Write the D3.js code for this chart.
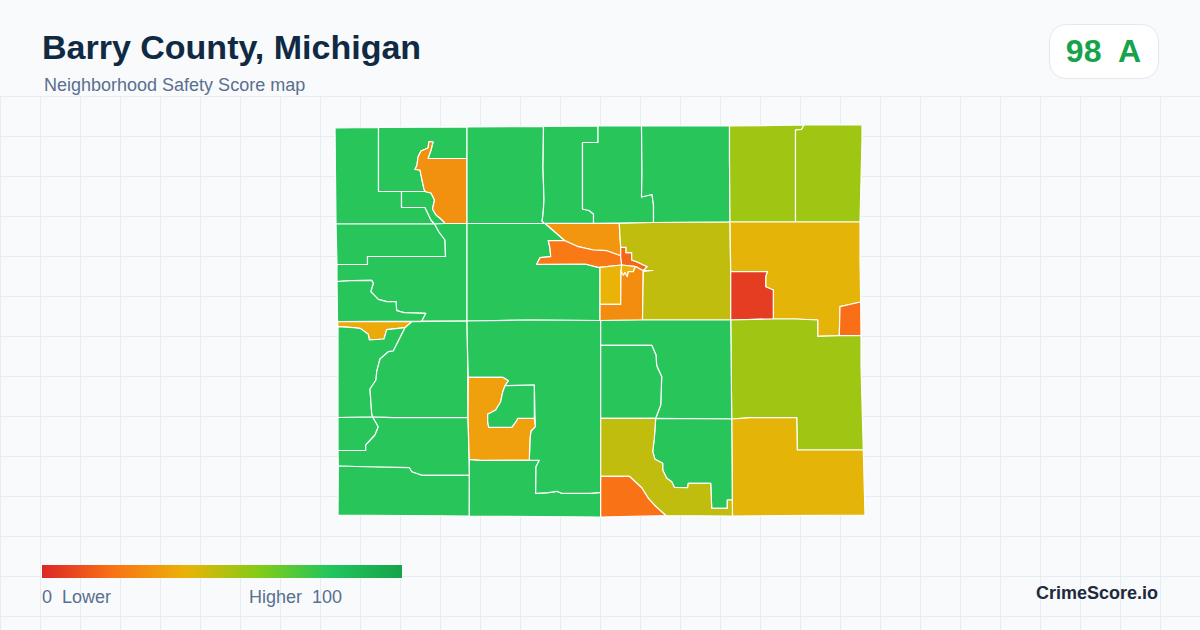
<!DOCTYPE html>
<html>
<head>
<meta charset="utf-8">
<title>Barry County, Michigan</title>
<script src="https://cdn.jsdelivr.net/npm/d3@7"></script>
<style>
  html, body { margin: 0; padding: 0; background: #f8fafc; }
  svg { display: block; font-family: "Liberation Sans", Arial, sans-serif; }
</style>
</head>
<body>
<svg width="1200" height="630"></svg>
<script>
//data: legend stops and texts
const legendStops = [0, 20, 40, 60, 80, 100];
const legendColors = ['#dc2626', '#f97316', '#eab308', '#84cc16', '#22c55e', '#16a34a'];
const legendTexts = ['0  Lower', 'Higher  100'];
const titleText = 'Barry County, Michigan';
const subtitleText = 'Neighborhood Safety Score map';
const badgeText = '98  A';
const brandText = 'CrimeScore.io';

//data: scores, same order as the rings
const tractScores = [
  79, 79, 79, 29, 79, 79, 79, 79, 55, 55,
  79, 79, 79, 79, 31, 22, 17, 40, 40, 28,
  48, 41, 6, 19, 55, 41, 37, 79, 79, 79,
  79, 79, 79, 79, 34, 79, 79, 79, 79, 48, 20
];

//data: tract outlines in map units
const nwWest = [[335,128],[378.5,127.5],[378.5,191.5],[401.5,191.5],[401.5,207.5],[425,207.5],[431,220],[434.5,224],[336,224]];
const nwTop = [[378.5,127.5],[467,127],[467,158.5],[428,158.5],[431,150],[433,142],[429,141.5],[428,148],[421,151],[418,157],[417,165],[415,169.5],[420,170],[422,180],[424,189],[425,191.5],[378.5,191.5]];
const nwSmall = [[401.5,191.5],[425,191.5],[431,193],[434.5,200],[432.5,209],[436,215],[441,219],[444,222],[445,223.5],[434.5,224],[431,220],[425,207.5],[401.5,207.5]];
const lakeTract = [[428,158.5],[467,158.5],[467,223.5],[445,223.5],[444,222],[441,219],[436,215],[432.5,209],[434.5,200],[431,193],[425,191.5],[424,189],[422,180],[420,170],[415,169.5],[417,165],[418,157],[421,151],[428,148],[429,141.5],[433,142],[431,150]];
const northMid = [[467,127],[543.5,126.5],[543,168],[544,200],[543,215],[542,221],[544.5,223.5],[467,223.5]];
const northB = [[543.5,126.5],[598,126],[598,142.5],[582.5,142.5],[582.5,209],[589,210.5],[593.5,214],[593.5,223.5],[544.5,223.5],[542,221],[543,215],[544,200],[543,168]];
const northC = [[598,126],[641.5,126],[642,173],[641.5,197],[652,194.5],[653.5,205],[653.5,222.5],[593.5,223.5],[593.5,214],[589,210.5],[582.5,209],[582.5,142.5],[598,142.5]];
const northD = [[641.5,126],[729.5,126],[729.5,160],[730,222],[653.5,222.5],[653.5,205],[652,194.5],[641.5,197],[642,173]];
const northE = [[729.5,126],[804,125],[801.5,129.5],[795.5,130],[795.5,222],[730,222],[729.5,160]];
const northF = [[804,125],[862,125],[862,140],[860,222],[795.5,222],[795.5,130],[801.5,129.5]];
const westA = [[336,224],[434.5,224],[439,232],[445,240],[445.5,256.5],[367.5,256.5],[367.5,264.5],[337,264.5]];
const westB = [[434.5,224],[445,223.5],[467,223.5],[467,321],[421.7,321],[425.7,313.3],[404,312.7],[396.7,310.7],[396,301.7],[386.7,301.7],[378.3,299.3],[370.7,291.7],[373.3,283.3],[371.7,280.3],[351.7,280.7],[337,281.5],[337,264.5],[367.5,264.5],[367.5,256.5],[445.5,256.5],[445,240],[439,232]];
const westC = [[337,281.5],[351.7,280.7],[371.7,280.3],[373.3,283.3],[370.7,291.7],[378.3,299.3],[386.7,301.7],[396,301.7],[396.7,310.7],[404,312.7],[425.7,313.3],[421.7,321],[337.5,321.5]];
const centerA = [[467,223.5],[545,223.5],[565,240.7],[548.3,240.7],[550,248],[550.7,256.7],[540,257.7],[536.7,264.3],[585,264],[598.3,267.3],[600,267.3],[600,304.3],[600,320.5],[530,320],[467,321]];
const cityNorth = [[545,223.3],[619.3,223.3],[620,236.7],[620.7,247.3],[620.7,255.7],[606.7,250.7],[593.3,250],[578.3,246.7],[565,240.7]];
const cityWest = [[548.3,240.7],[565,240.7],[578.3,246.7],[593.3,250],[606.7,250.7],[620.7,255.7],[621.7,265],[606.7,266.7],[598.3,267.3],[585,264],[536.7,264.3],[540,257.7],[550.7,256.7],[550,248]];
const cityCore = [[620.7,247.3],[626,247.3],[626,252.7],[631.7,252.7],[631.7,260],[636.7,261.7],[647.3,266.7],[643.3,270.7],[636,266.7],[621.7,265],[620.7,256.7]];
const citySouth = [[600,267.3],[606.7,266.7],[621.7,265],[621,271.7],[620.7,304.3],[600,304.3]];
const citySpike = [[621.7,265],[636,266.7],[635,267.3],[633.3,271.7],[628.3,271.7],[627.3,276.7],[625,272.7],[623.3,275.3],[621,271.7]];
const cityEast = [[600,304.3],[620.7,304.3],[621,271.7],[623.3,275.3],[625,272.7],[627.3,276.7],[628.3,271.7],[633.3,271.7],[635,267.3],[636,266.7],[643.3,270.7],[642.5,320],[600,320.5]];
const eastOlive = [[619.3,223.3],[653.5,222.5],[730,222],[730.7,271.7],[730.7,320],[642.5,320],[643.3,271.5],[652.7,270.5],[643.3,270.7],[647.3,266.7],[636.7,261.7],[631.7,260],[631.7,252.7],[626,252.7],[626,247.3],[620.7,247.3],[620,236.7]];
const eastAmber = [[730,222],[860,222],[860,260],[860.7,302],[851.7,304],[840,306.7],[839.3,335.7],[817.7,336.3],[817.7,320],[795.7,319],[773.3,319],[773.3,290],[765.7,286.7],[765.7,276.7],[767.3,271.7],[730.7,271.7]];
const eastRed = [[730.7,271.7],[767.3,271.7],[765.7,276.7],[765.7,286.7],[773.3,290],[773.3,319],[730.7,320]];
const eastOrange = [[840,306.7],[851.7,304],[860.7,302],[861,335.5],[839.3,335.7]];
const eastLime = [[730.7,320],[773.3,319],[795.7,319],[817.7,320],[817.7,336.3],[839.3,335.7],[861,335.5],[861,365],[863.3,450],[797.3,450],[796.7,417.7],[751,417.7],[731.7,419],[731,345]];
const southEast = [[731.7,419],[751,417.7],[796.7,417.7],[797.3,450],[863.3,450],[865,515],[783,515.7],[732.5,516]];
const westStrip = [[337.5,321.5],[411.7,321.7],[405,327.7],[386.7,329.7],[384,339],[369.3,340],[368.3,334.3],[360,328.3],[353.3,327.7],[338,326.7]];
const swA = [[338,326.7],[353.3,327.7],[360,328.3],[368.3,334.3],[369.3,340],[384,339],[386.7,329.7],[405,327.7],[393.3,351],[388.3,351.7],[380,359],[376.7,371.7],[376,380],[370,389],[371.7,413.3],[372.7,417],[338,417.5]];
const swB = [[411.7,321.7],[467,321],[467.5,350],[468,417.5],[393.3,417.7],[372.7,417],[371.7,413.3],[370,389],[376,380],[376.7,371.7],[380,359],[388.3,351.7],[393.3,351],[405,327.7]];
const swC = [[338,417.5],[372.7,417],[378.3,426.7],[375,435],[365.7,445],[365.7,450.5],[338,450.5]];
const swD = [[372.7,417],[393.3,417.7],[468,417.5],[469.5,475.3],[421.7,475.3],[411.7,471.7],[409.3,467.7],[373.3,467],[338.3,466],[338,450.5],[365.7,450.5],[365.7,445],[375,435],[378.3,426.7]];
const swE = [[338.3,466],[373.3,467],[409.3,467.7],[411.7,471.7],[421.7,475.3],[469.5,475.3],[469.3,516],[338,515]];
const southMid = [[469.3,459.3],[481.7,460.3],[539.3,460.3],[536,466.7],[535.7,493.3],[548.3,492.7],[556.7,491.3],[561.7,493.3],[590,493.3],[600.7,492.3],[600.7,517],[469.3,516]];
const midLarge = [[467,321],[530,320],[600.7,320.5],[600.7,492.3],[590,493.3],[561.7,493.3],[556.7,491.3],[548.3,492.7],[535.7,493.3],[536,466.7],[539.3,460.3],[529.3,460],[530,438.3],[531,431],[535.3,426.7],[534.3,385],[505,385.7],[508.3,380.7],[502.7,377.3],[468.3,377.3],[467.5,350]];
const midAmber = [[468.3,377.3],[502.7,377.3],[508.3,380.7],[505,385.7],[502.7,392],[500.7,401.7],[495.7,410],[487.7,414.3],[487.7,421.7],[488.7,427.3],[511.7,427.3],[516,421.7],[517.7,418.3],[534.3,418.3],[535.3,426.7],[531,431],[530,438.3],[529.3,460],[481.7,460.3],[469.3,459.3],[468,417.5]];
const midInner = [[505,385.7],[534.3,385],[534.3,418.3],[517.7,418.3],[516,421.7],[511.7,427.3],[488.7,427.3],[487.7,421.7],[487.7,414.3],[495.7,410],[500.7,401.7],[502.7,392]];
const seA = [[600.7,320.5],[642.5,320],[730.7,320],[731,345],[731.7,419],[655.7,418.3],[660.7,405],[661.7,376.7],[656.7,365.7],[656,355],[651.7,345.3],[600.7,345.3]];
const seB = [[600.7,345.3],[651.7,345.3],[656,355],[656.7,365.7],[661.7,376.7],[660.7,405],[655.7,418.3],[600.7,418.3]];
const seC = [[655.7,418.3],[731.7,419],[732.3,500],[727.3,500],[727.3,508.3],[711.7,508.3],[710.7,483.3],[688.3,483.3],[687.7,487.7],[674.3,487.3],[671.7,481.7],[666.7,478.3],[662.7,470],[662.7,463.3],[655,459.3],[652.7,451.7],[654.3,438.3]];
const seOlive = [[600.7,418.3],[655.7,418.3],[654.3,438.3],[652.7,451.7],[655,459.3],[662.7,463.3],[662.7,470],[666.7,478.3],[671.7,481.7],[674.3,487.3],[687.7,487.7],[688.3,483.3],[710.7,483.3],[711.7,508.3],[727.3,508.3],[727.3,500],[732.3,500],[732.5,516],[666,515.7],[655,505.7],[648.3,498.3],[641.7,487.7],[629.3,476.3],[600.7,476.3]];
const seOrange = [[600.7,476.3],[629.3,476.3],[641.7,487.7],[648.3,498.3],[655,505.7],[666,515.7],[600.7,517]];

const tractRings = [
  nwWest, nwTop, nwSmall, lakeTract, northMid, northB, northC, northD, northE, northF,
  westA, westB, westC, centerA, cityNorth, cityWest, cityCore, citySouth, citySpike, cityEast,
  eastOlive, eastAmber, eastRed, eastOrange, eastLime, southEast, westStrip, swA, swB, swC,
  swD, swE, southMid, midLarge, midAmber, midInner, seA, seB, seC, seOlive, seOrange
];

//set up
const svg = d3.select('svg');
const width = 1200, height = 630;
const textColor = '#5a6f8f';

const color = d3.scaleLinear().domain(legendStops).range(legendColors);
const x = d3.scaleLinear().domain([335, 865]).range([335, 865]);
const y = d3.scaleLinear().domain([125, 517]).range([125, 517]);
const legendX = d3.scaleLinear().domain([0, 100]).range([42, 402]);

const outline = d3.line()
  .x(d => x(d[0]))
  .y(d => y(d[1]))
  .curve(d3.curveLinearClosed);

//background grid
svg.append('rect').attr('width', width).attr('height', height).attr('fill', '#f8fafc');

svg.append('g')
  .selectAll('line')
  .data(d3.range(0.5, width, 40))
  .join('line')
  .attr('x1', d => d).attr('x2', d => d)
  .attr('y1', 97).attr('y2', height)
  .attr('stroke', '#e5edf1');

svg.append('g')
  .selectAll('line')
  .data(d3.range(96.5, height, 40))
  .join('line')
  .attr('x1', 0).attr('x2', width)
  .attr('y1', d => d).attr('y2', d => d)
  .attr('stroke', '#e5edf1');

//map
svg.append('g')
  .selectAll('path')
  .data(tractRings)
  .join('path')
  .attr('d', outline)
  .attr('fill', (d, i) => color(tractScores[i]))
  .attr('stroke', '#fff')
  .attr('stroke-width', 1.2)
  .attr('stroke-linejoin', 'round');

//header
svg.append('text')
  .attr('x', 42).attr('y', 59)
  .attr('font-size', 34).attr('font-weight', 700)
  .attr('fill', '#102a43')
  .text(titleText);

svg.append('text')
  .attr('x', 44).attr('y', 91)
  .attr('font-size', 18)
  .attr('fill', textColor)
  .text(subtitleText);

svg.append('rect')
  .attr('x', 1049.5).attr('y', 24.5)
  .attr('width', 109).attr('height', 54)
  .attr('rx', 16)
  .attr('fill', '#fff')
  .attr('stroke', '#e2e8f0');

svg.append('text')
  .attr('x', 1103.5).attr('y', 62)
  .attr('text-anchor', 'middle')
  .attr('font-size', 32).attr('font-weight', 700)
  .attr('fill', '#16a34a')
  .attr('xml:space', 'preserve')
  .style('white-space', 'pre')
  .text(badgeText);

//legend
const defs = svg.append('defs');
const gradient = defs.append('linearGradient').attr('id', 'legend-ramp');
gradient.selectAll('stop')
  .data(legendStops)
  .join('stop')
  .attr('offset', d => d + '%')
  .attr('stop-color', d => color(d));

svg.append('rect')
  .attr('x', legendX(0)).attr('y', 565)
  .attr('width', legendX(100) - legendX(0)).attr('height', 13)
  .attr('fill', 'url(#legend-ramp)');

svg.selectAll('text.legend')
  .data(legendTexts)
  .join('text')
  .attr('class', 'legend')
  .attr('x', (d, i) => i ? 342 : legendX(0))
  .attr('y', 603)
  .attr('text-anchor', (d, i) => i ? 'end' : 'start')
  .attr('font-size', 18)
  .attr('fill', textColor)
  .style('white-space', 'pre')
  .text(d => d);

svg.append('text')
  .attr('x', 1158).attr('y', 599)
  .attr('text-anchor', 'end')
  .attr('font-size', 18).attr('font-weight', 700)
  .attr('fill', '#1e293b')
  .text(brandText);
</script>
</body>
</html>
